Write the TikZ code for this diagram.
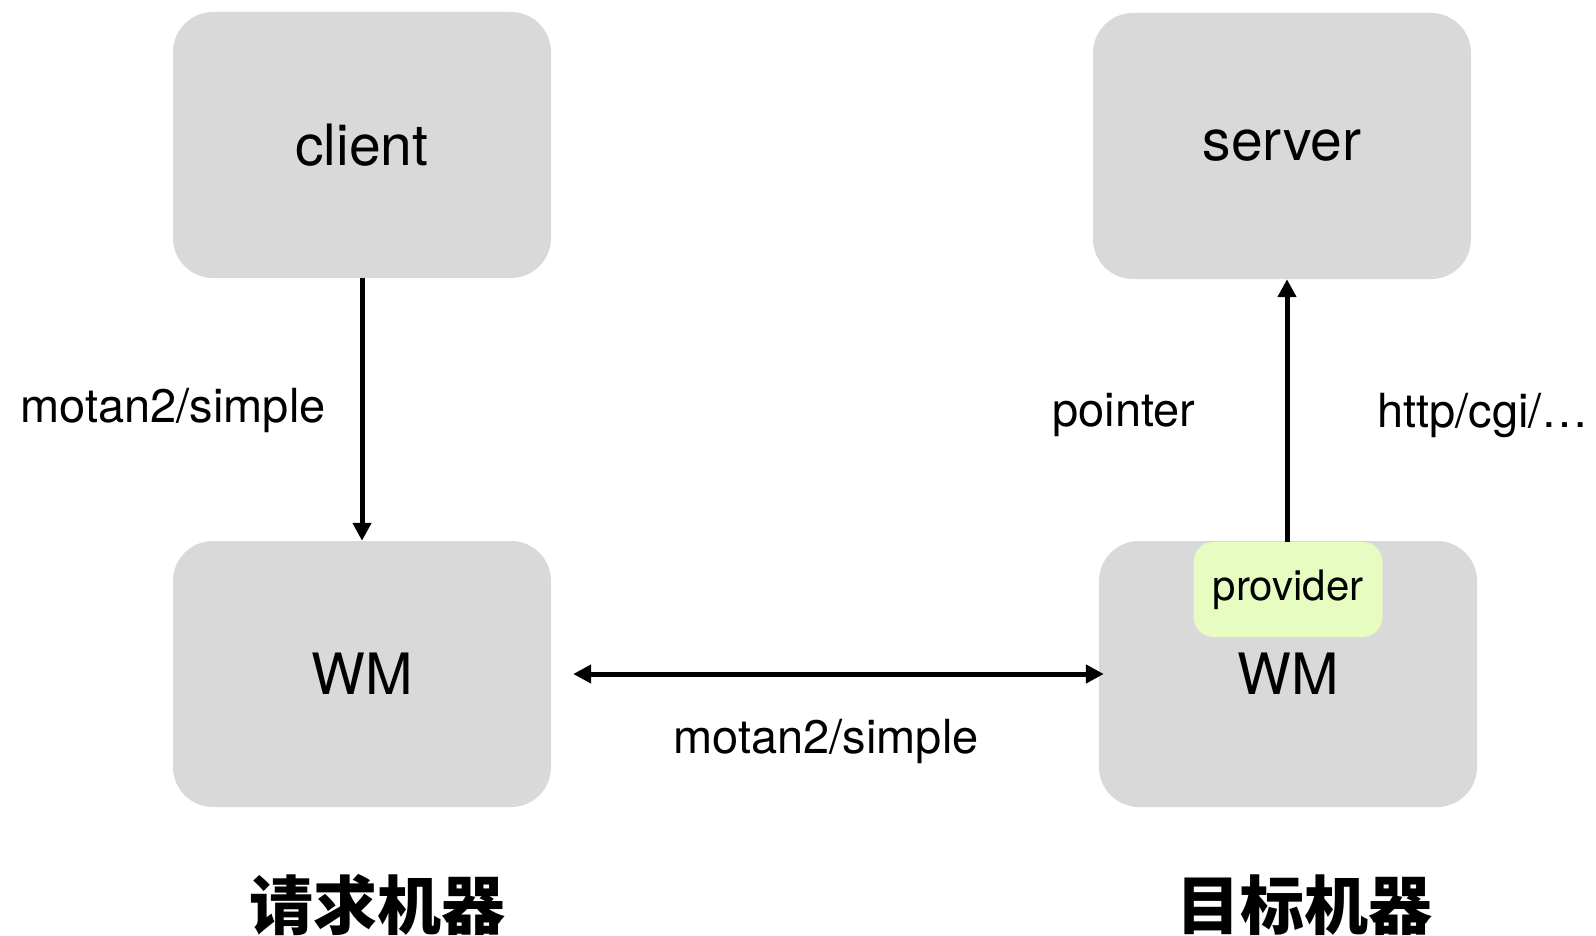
\documentclass[tikz,border=0pt]{standalone}
\usepackage{fontspec}
\setmainfont{TeX Gyre Heros}
\newfontfamily\cjk{Noto Sans CJK SC}
\usetikzlibrary{arrows.meta}
\definecolor{boxgray}{HTML}{D9D9D9}
\definecolor{provgreen}{HTML}{E6FCC0}

\begin{document}
\begin{tikzpicture}[x=1pt,y=-1pt,
  box/.style={fill=boxgray, rounded corners=40pt, minimum width=378pt,
    minimum height=266pt, font=\fontsize{57}{60}\selectfont},
  lbl/.style={font=\fontsize{47}{50}\selectfont},
  tip/.tip={Triangle[length=18pt,width=18pt]},
  conn/.style={line width=5pt, -tip}]
  \clip (0,0) rectangle (1596,936);

  \node [box] (client) at (362,145) {client};
  \node [box] (server) at (1282,146) {server};
  \node [box] (wmA) at (362,674) {WM};
  \node [box] (wmB) at (1288,674) {WM};
  \node [fill=provgreen, rounded corners=20pt, minimum width=189pt,
    minimum height=95pt, font=\fontsize{42}{45}\selectfont]
    (prov) at (1288,589.5) {provider};

  \draw [conn] (client) -- (wmA);
  \draw [conn] (prov.north -| 1287,0) -- (server.south -| 1287,0);
  \draw [conn, tip-tip, shorten <=22pt, shorten >=-5pt] (wmA) -- (wmB);

  \node [lbl] (lblA) at (173,410) {motan2/simple};
  \node [lbl] (lblB) at (1124,415) {pointer};
  \node [lbl] (lblC) at (1483,415) {http/cgi/\dots};
  \node [lbl] (lblD) at (826,741) {motan2/simple};

  \node [font=\cjk\bfseries\fontsize{64}{66}\selectfont] (hostA) at (377,905) {请求机器};
  \node [font=\cjk\bfseries\fontsize{64}{66}\selectfont] (hostB) at (1304,905) {目标机器};
\end{tikzpicture}
\end{document}
